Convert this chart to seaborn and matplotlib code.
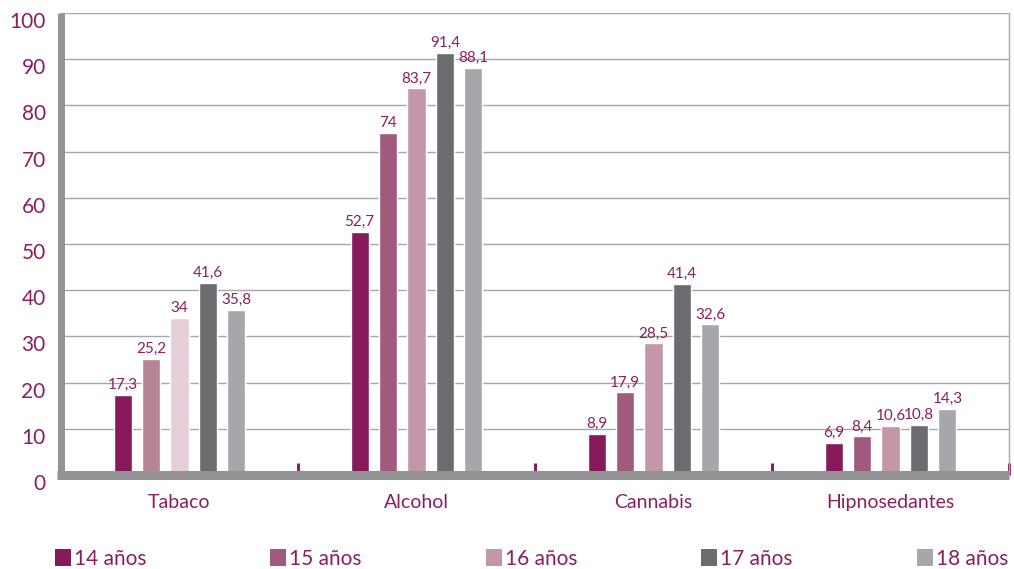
import numpy as np
import pandas as pd
import matplotlib
matplotlib.use("Agg")
import matplotlib.pyplot as plt
import matplotlib.transforms as mtransforms
from matplotlib.patches import Patch
import seaborn as sns

# ── DATA ───────────────────────────────────────────────────────────────────────
CATEGORIES = ["Tabaco", "Alcohol", "Cannabis", "Hipnosedantes"]
AGES = ["14 años", "15 años", "16 años", "17 años", "18 años"]

VALUES_14 = [17.3, 52.7, 8.9, 6.9]
VALUES_15 = [25.2, 74.0, 17.9, 8.4]
VALUES_16 = [34.0, 83.7, 28.5, 10.6]
VALUES_17 = [41.6, 91.4, 41.4, 10.8]
VALUES_18 = [35.8, 88.1, 32.6, 14.3]

Y_TICKS = [0, 10, 20, 30, 40, 50, 60, 70, 80, 90, 100]

# ── STYLE ──────────────────────────────────────────────────────────────────────
PALETTE = ["#861a5b", "#a05a7d", "#c397a9", "#6c6c70", "#a7a7ab"]
TABACO_OVERRIDE = {1: "#b48597", 2: "#e5d0d9"}   # lighter pinks in the Tabaco group
TEXT_COLOR = "#8a1f5f"
AXIS_GRAY = "#939396"
GRID_GRAY = "#a8a8a8"

sns.set_theme(style="white")
plt.rcParams["font.family"] = ["Lato", "DejaVu Sans"]

rows = []
for age, vals in zip(AGES, [VALUES_14, VALUES_15, VALUES_16, VALUES_17, VALUES_18]):
    for cat, v in zip(CATEGORIES, vals):
        rows.append({"cat": cat, "age": age, "value": v})
df = pd.DataFrame(rows)

fig = plt.figure(figsize=(10.14, 5.69), dpi=100)
ax = fig.add_axes([61 / 1014, 1 - 475 / 569, (1009 - 61) / 1014, (475 - 13) / 569])

sns.barplot(data=df, x="cat", y="value", hue="age", order=CATEGORIES,
            hue_order=AGES, palette=PALETTE, width=0.6, gap=0.36,
            saturation=1, legend=False, ax=ax, zorder=2)

# Tabaco group uses lighter pinks for 15 and 16
for idx, col in TABACO_OVERRIDE.items():
    ax.containers[idx][0].set_facecolor(col)

# value labels with decimal comma
for cont in ax.containers:
    labels = [f"{b.get_height():g}".replace(".", ",") for b in cont]
    ax.bar_label(cont, labels=labels, padding=2, fontsize=11, color=TEXT_COLOR)

ax.set_ylim(0, 100)
ax.set_xlim(-0.5, len(CATEGORIES) - 0.5)
ax.set_yticks(Y_TICKS)
ax.yaxis.grid(True, color=GRID_GRAY, linewidth=1)
ax.set_axisbelow(True)
ax.set_xlabel("")
ax.set_ylabel("")

for side in ["top", "bottom"]:
    ax.spines[side].set_visible(False)
ax.spines["right"].set_color(GRID_GRAY)
ax.spines["right"].set_linewidth(1)
ax.spines["left"].set_color(AXIS_GRAY)
ax.spines["left"].set_linewidth(5)
ax.spines["left"].set_capstyle("butt")

# thick gray floor
ax.axhline(0, xmin=-0.004, xmax=1, color=AXIS_GRAY, linewidth=6.5,
           clip_on=False, zorder=3, solid_capstyle="butt")

# tick labels
ax.tick_params(axis="y", length=0, pad=11, labelsize=15, labelcolor=TEXT_COLOR)
ax.tick_params(axis="x", which="major", length=0, pad=14, labelsize=14,
               labelcolor=TEXT_COLOR)
ax.set_xticks(np.arange(len(CATEGORIES)) + 0.5, minor=True)
ax.tick_params(axis="x", which="minor", direction="in", length=8.5, width=2.2,
               color=TEXT_COLOR, bottom=True)

shift = mtransforms.ScaledTranslation(0, -7 / 100, fig.dpi_scale_trans)
for lab in ax.get_yticklabels():
    lab.set_transform(lab.get_transform() + shift)

# legend along the bottom
handles = [Patch(facecolor=c, edgecolor="none") for c in PALETTE]
fig.legend(handles, AGES, loc="lower left", ncol=5, mode="expand",
           bbox_to_anchor=(55 / 1014, 0.0, (1008 - 55) / 1014, 0.05),
           frameon=False, fontsize=15, labelcolor=TEXT_COLOR,
           handlelength=0.75, handleheight=0.9, handletextpad=0.15,
           borderaxespad=0.0, borderpad=0.0)

plt.savefig("out.png", dpi=100)
plt.close()
